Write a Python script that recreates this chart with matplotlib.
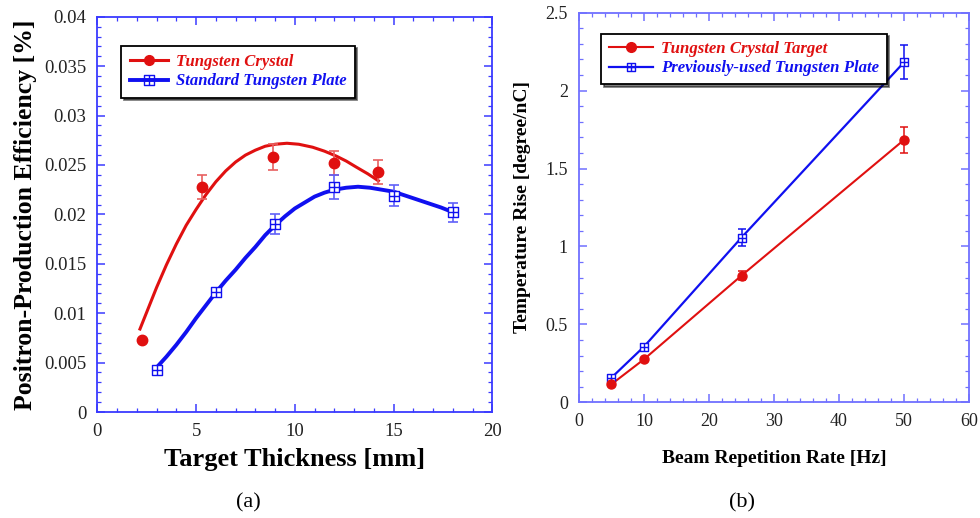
"""
Positron-production efficiency vs target thickness (a) and
temperature rise vs beam repetition rate (b)
"""
import matplotlib
matplotlib.use('Agg')
import matplotlib.pyplot as plt
from matplotlib.path import Path

plt.rcParams['font.family'] = ['Liberation Serif', 'DejaVu Serif']

# (a) measured points
thick_cr = [2.25, 5.3, 8.9, 12.0, 14.2]
eff_cr = [0.0073, 0.0228, 0.0258, 0.0252, 0.0243]
err_cr = [0.0, 0.0012, 0.0013, 0.0012, 0.0012]

thick_pl = [3.0, 6.0, 9.0, 12.0, 15.0, 18.0]
eff_pl = [0.0043, 0.0121, 0.0190, 0.0228, 0.0219, 0.0202]
err_pl = [0.0002, 0.0004, 0.0010, 0.0012, 0.0011, 0.0010]

# (a) fitted curves
fit_x_cr = [2.16, 2.6, 3.0, 3.5, 4.0, 4.5, 5.0, 5.5, 6.0, 6.5, 7.0, 7.5,
            8.0, 8.5, 9.0, 9.6, 10.2, 10.9, 11.5, 12.1, 12.6, 13.1, 13.7,
            14.23]
fit_y_cr = [0.0084, 0.0106, 0.0126, 0.0149, 0.0170, 0.0189, 0.0205, 0.0220,
            0.0233, 0.0244, 0.0253, 0.0260, 0.0265, 0.0269, 0.0271, 0.0272,
            0.0271, 0.0268, 0.0264, 0.0259, 0.0254, 0.0248, 0.0241, 0.0234]
fit_x_pl = [3.0, 3.5, 4.0, 4.5, 5.0, 5.5, 6.0, 6.5, 7.0, 7.5, 8.0, 8.5,
            9.0, 9.5, 10.0, 10.5, 11.0, 11.5, 12.0, 12.6, 13.2, 13.8, 14.4,
            15.0, 15.6, 16.2, 16.8, 17.4, 18.03]
fit_y_pl = [0.0045, 0.0056, 0.0068, 0.0081, 0.0095, 0.0108, 0.0121, 0.0133,
            0.0144, 0.0156, 0.0167, 0.0179, 0.0189, 0.0198, 0.0206, 0.0212,
            0.0218, 0.0222, 0.0225, 0.0227, 0.0228, 0.0227, 0.0225, 0.0223,
            0.0219, 0.0215, 0.0211, 0.0207, 0.0202]

# (b) temperature rise
rate = [5, 10, 25, 50]
temp_cr = [0.116, 0.276, 0.813, 1.684]
terr_cr = [0.0, 0.0, 0.03, 0.085]
temp_pl = [0.158, 0.357, 1.057, 2.182]
terr_pl = [0.0, 0.0, 0.055, 0.108]

RED = '#e01010'
BLUE = '#1010f0'

# open square with a cross inside
sq_cross = Path(
    [(-1, -1), (1, -1), (1, 1), (-1, 1), (-1, -1),
     (0, -1), (0, 1), (-1, 0), (1, 0)],
    [Path.MOVETO, Path.LINETO, Path.LINETO, Path.LINETO, Path.CLOSEPOLY,
     Path.MOVETO, Path.LINETO, Path.MOVETO, Path.LINETO])

fig = plt.figure(figsize=(9.8, 5.18), dpi=100)
ax1 = fig.add_axes([0.0993, 0.2046, 0.4031, 0.7630])
ax2 = fig.add_axes([0.5908, 0.2234, 0.3980, 0.7521])


def style_axes(ax, spine_col, xmaj, xmin, ymaj, ymin, fs):
    for s in ax.spines.values():
        s.set_color(spine_col)
        s.set_linewidth(1.3)
    ax.xaxis.set_major_locator(plt.MultipleLocator(xmaj))
    ax.xaxis.set_minor_locator(plt.MultipleLocator(xmin))
    ax.yaxis.set_major_locator(plt.MultipleLocator(ymaj))
    ax.yaxis.set_minor_locator(plt.MultipleLocator(ymin))
    ax.tick_params(which='both', direction='in', top=True, right=True,
                   color=spine_col, labelsize=fs, labelcolor='#222222')
    ax.tick_params(which='major', length=6, width=1.1, pad=8)
    ax.tick_params(which='minor', length=3, width=0.9)


# ---- (a)
ax1.plot(fit_x_cr, fit_y_cr, color=RED, lw=2.2, label='Tungsten Crystal',
         marker='o', markevery=[], ms=7)
ax1.plot(fit_x_pl, fit_y_pl, color=BLUE, lw=2.8,
         label='Standard Tungsten Plate', marker=sq_cross, markevery=[],
         ms=7, mfc='none', mew=1.0)
ax1.errorbar(thick_cr, eff_cr, yerr=err_cr, fmt='o', color=RED, ms=7.5,
             ecolor='#e86060', elinewidth=1.2, capsize=3.5, capthick=1.2)
ax1.errorbar(thick_pl, eff_pl, yerr=err_pl, fmt='none', ecolor='#6060f8',
             elinewidth=1.2, capsize=3.5, capthick=1.2)
ax1.plot(thick_pl, eff_pl, ls='none', marker=sq_cross, ms=6.5, mfc='white',
         mec=BLUE, mew=1.0)
ax1.set_xlim(0, 20)
ax1.set_ylim(0, 0.04)
style_axes(ax1, '#3a3aff', 5, 1, 0.005, 0.001, 13.5)
ax1.set_yticks([0, 0.005, 0.01, 0.015, 0.02, 0.025, 0.03, 0.035, 0.04])
ax1.set_yticklabels(['0', '0.005', '0.01', '0.015', '0.02', '0.025', '0.03',
                     '0.035', '0.04'])
ax1.set_xlabel('Target Thickness [mm]', fontsize=19, fontweight='bold',
               labelpad=6)
ax1.set_ylabel('Positron-Production Efficiency [%]', fontsize=18.5,
               fontweight='bold', labelpad=5)
leg1 = ax1.legend(loc='upper left', bbox_to_anchor=(0.04, 0.948),
                  frameon=True, fancybox=False, shadow={'color': 'black'},
                  edgecolor='black', framealpha=1,
                  handlelength=2.3, handletextpad=0.45, borderpad=0.5,
                  labelspacing=0.2, labelcolor='linecolor',
                  prop={'style': 'italic', 'weight': 'bold', 'size': 12})
leg1.get_frame().set_linewidth(1.3)

# ---- (b)
ax2.plot(rate, temp_cr, color=RED, lw=1.5, label='Tungsten Crystal Target',
         marker='o', markevery=[], ms=7)
ax2.plot(rate, temp_pl, color=BLUE, lw=1.6,
         label='Previously-used Tungsten Plate', marker=sq_cross,
         markevery=[], ms=6, mfc='none', mew=1.0)
ax2.errorbar(rate, temp_cr, yerr=terr_cr, fmt='o', color=RED, ms=6.5,
             ecolor=RED, elinewidth=1.1, capsize=3, capthick=1.1)
ax2.errorbar(rate, temp_pl, yerr=terr_pl, fmt='none', ecolor=BLUE,
             elinewidth=1.1, capsize=3, capthick=1.1)
ax2.plot(rate, temp_pl, ls='none', marker=sq_cross, ms=6, mfc='white',
         mec=BLUE, mew=1.0)
ax2.set_xlim(0, 60)
ax2.set_ylim(0, 2.5)
style_axes(ax2, '#7070ff', 10, 2, 0.5, 0.1, 13)
ax2.set_yticks([0, 0.5, 1, 1.5, 2, 2.5])
ax2.set_yticklabels(['0', '0.5', '1', '1.5', '2', '2.5'])
ax2.set_xlabel('Beam Repetition Rate [Hz]', fontsize=14, fontweight='bold',
               labelpad=14)
ax2.set_ylabel('Temperature Rise [degree/nC]', fontsize=14,
               fontweight='bold', labelpad=10)
leg2 = ax2.legend(loc='upper left', bbox_to_anchor=(0.036, 0.968),
                  frameon=True, fancybox=False, shadow={'color': 'black'},
                  edgecolor='black', framealpha=1,
                  handlelength=2.6, handletextpad=0.5, borderpad=0.45,
                  labelspacing=0.2, labelcolor='linecolor',
                  prop={'style': 'italic', 'weight': 'bold', 'size': 12.1})
leg2.get_frame().set_linewidth(1.3)

fig.text(0.253, 0.03, '(a)', fontsize=16, ha='center', va='center')
fig.text(0.757, 0.03, '(b)', fontsize=16, ha='center', va='center')

fig.savefig('out.png', dpi=100, facecolor='white')
